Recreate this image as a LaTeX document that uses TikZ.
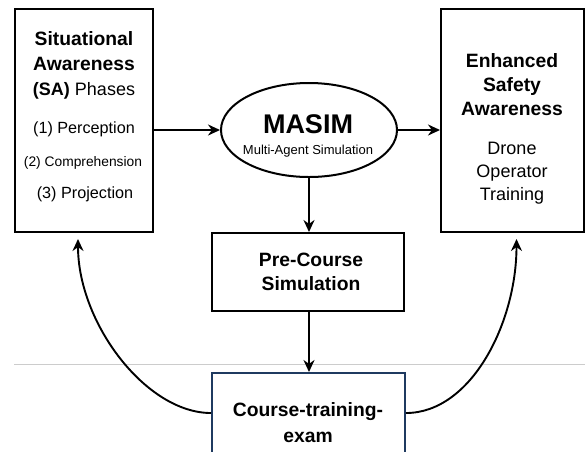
\documentclass[tikz,border=0pt]{standalone}
\usepackage{fontspec}
\setmainfont{Liberation Sans}
\usepackage{xcolor}
\usetikzlibrary{shapes.geometric}
\usetikzlibrary{arrows.meta}
\definecolor{navy}{HTML}{1F3A60}
\tikzstyle{mybox} = [draw=black, line width=2pt, rectangle, inner sep=0pt]
\tikzstyle{headtext} = [anchor=base, font=\fontsize{19.3}{22}\selectfont\bfseries]
\tikzstyle{bodytext} = [anchor=base, font=\fontsize{18}{21}\selectfont]
\tikzstyle{arr} = [line width=1.9pt, -{Stealth[length=12pt,width=11pt]}]

\begin{document}
\begin{tikzpicture}[x=1pt,y=-1pt]
        \useasboundingbox (0,0) rectangle (585,451);
        % faint rule
        \coordinate (ruleL) at (14,364);
        \coordinate (ruleR) at (585,364);
        \draw[black!20, line width=0.8pt] (ruleL) -- (ruleR);
        % boxes
        \node [mybox, minimum width=138pt, minimum height=223pt] (sabox) at (84,120.5) {};
        \node [mybox, minimum width=143pt, minimum height=223pt] (esabox) at (512.5,120.5) {};
        \node [mybox, ellipse, minimum width=176pt, minimum height=94pt] (masim) at (309,130) {};
        \node [mybox, minimum width=192pt, minimum height=78pt] (precourse) at (308,272) {};
        \node [mybox, draw=navy, fill=white, minimum width=193pt, minimum height=80pt] (course) at (308.5,413) {};
        % texts of the SA box
        \node [headtext] (sa1) at (84,45) {Situational};
        \node [headtext] (sa2) at (84,70) {Awareness};
        \node [bodytext] (sa3) at (84,95) {\textbf{(SA)} Phases};
        \node [anchor=base, font=\fontsize{16.2}{19}\selectfont] (sa4) at (84,133) {(1) Perception};
        \node [anchor=base, font=\fontsize{13.8}{16}\selectfont] (sa5) at (83,166) {(2) Comprehension};
        \node [anchor=base, font=\fontsize{16.2}{19}\selectfont] (sa6) at (85,198) {(3) Projection};
        % texts of the safety box
        \node [headtext] (es1) at (512,67) {Enhanced};
        \node [headtext] (es2) at (512,91) {Safety};
        \node [headtext] (es3) at (512,115) {Awareness};
        \node [bodytext] (es4) at (512,154) {Drone};
        \node [bodytext] (es5) at (512,177) {Operator};
        \node [bodytext] (es6) at (512,200) {Training};
        % MASIM
        \node [anchor=base, font=\fontsize{27}{30}\selectfont\bfseries] (ms1) at (308,133) {MASIM};
        \node [anchor=base, font=\fontsize{13}{15}\selectfont] (ms2) at (308,154) {Multi-Agent Simulation};
        % simulation and course
        \node [headtext] (pc1) at (311,266) {Pre-Course};
        \node [headtext] (pc2) at (311,290) {Simulation};
        \node [headtext] (ct1) at (308,416) {Course-training-};
        \node [headtext] (ct2) at (308,442) {exam};
        % arrows
        \draw[arr] (masim.west -| sabox.east) -- (masim.west);
        \draw[arr] (masim.east) -- (masim.east -| esabox.west);
        \draw[arr] (masim.south) -- (precourse.north -| masim.south);
        \draw[arr] (precourse.south -| masim.south) -- (course.north -| masim.south);
        \draw[arr, shorten >=6pt] (course.west) .. controls +(-65,0) and +(0,90) .. ([xshift=-6pt]sabox.south);
        \draw[arr, shorten >=6pt] (course.east) .. controls +(65,0) and +(0,90) .. ([xshift=4pt]esabox.south);
    \end{tikzpicture}
\end{document}
